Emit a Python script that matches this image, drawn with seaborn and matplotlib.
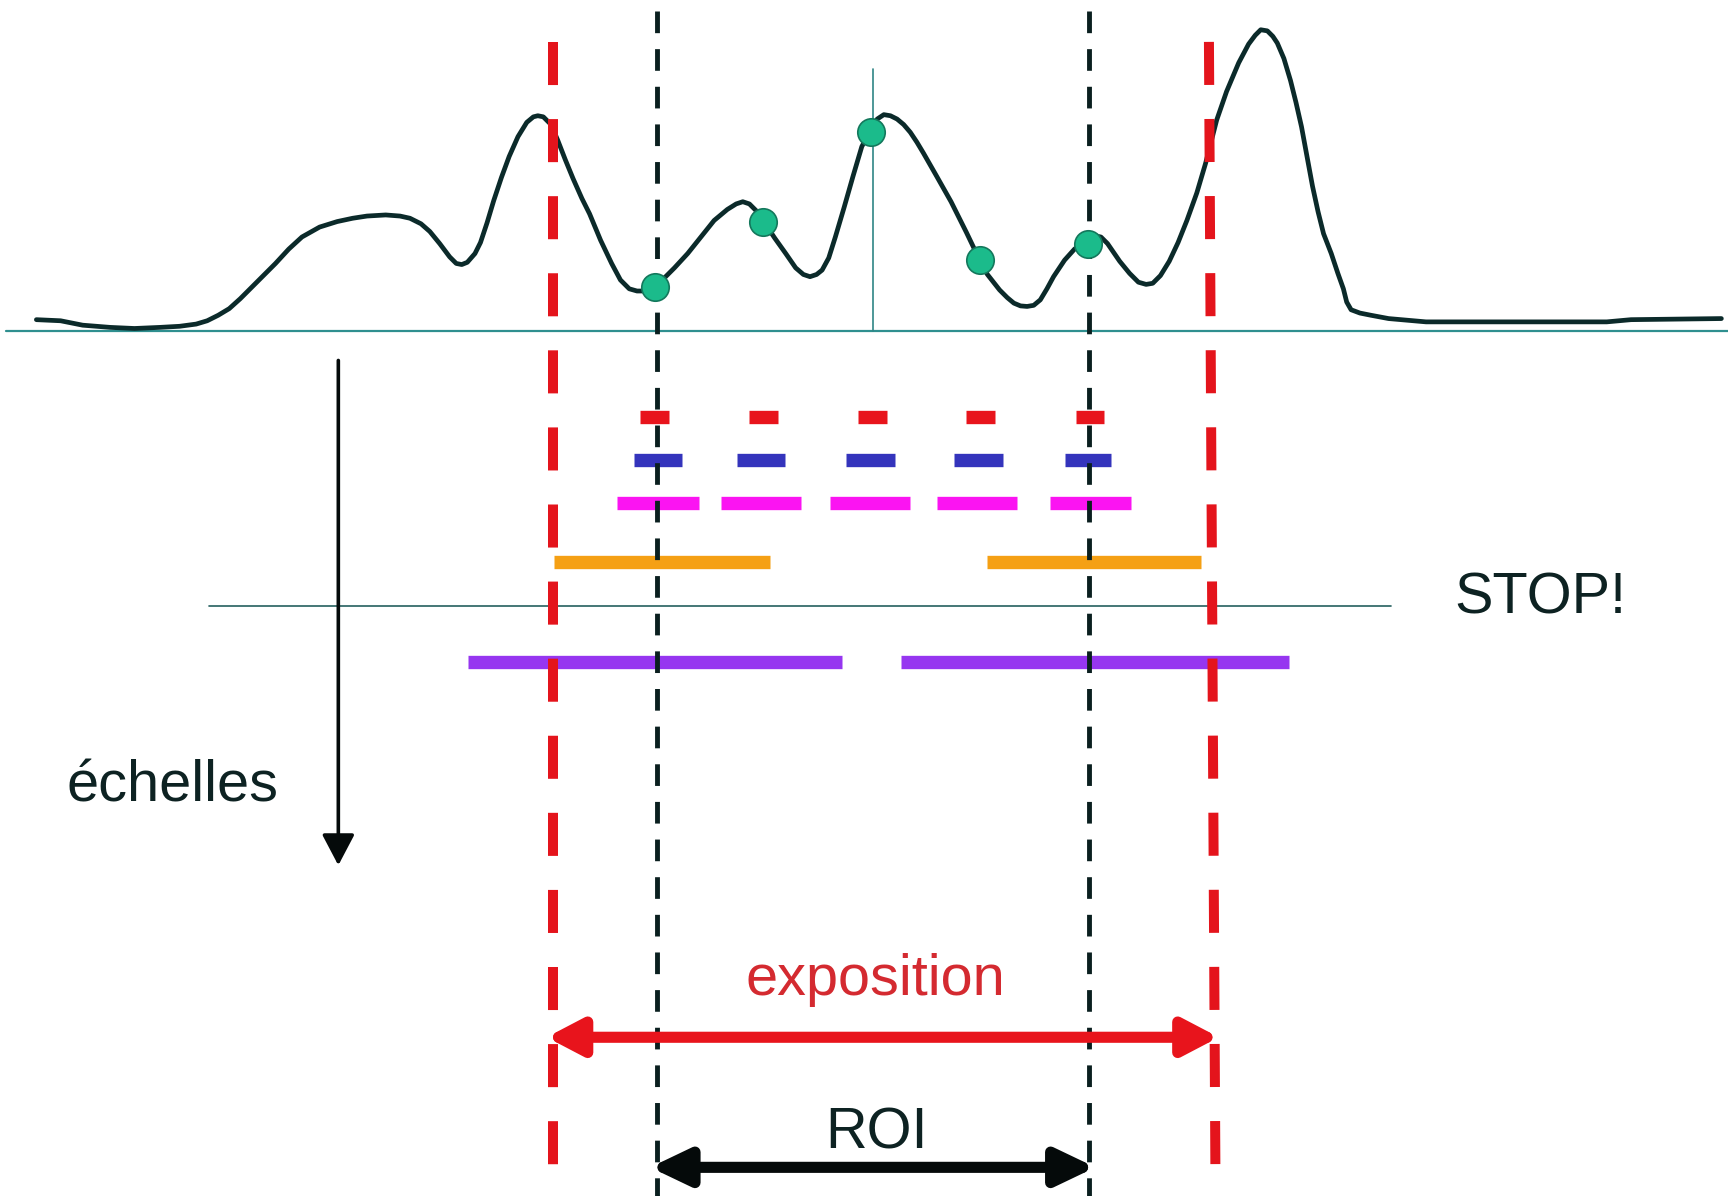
import matplotlib
matplotlib.use("Agg")
import matplotlib.pyplot as plt
import seaborn as sns
import pandas as pd
from matplotlib.patches import FancyArrowPatch

sns.set_theme(style="white")
plt.rcParams['font.family'] = ['Liberation Sans', 'DejaVu Sans']
plt.rcParams['lines.scale_dashes'] = False

# ---------------- data (canvas units) ----------------
curve_x = [33, 55, 75, 100, 122, 145, 163, 178, 188, 198, 208, 218, 229, 240, 250, 262,
           274, 290, 306, 320, 333, 350, 363, 372, 382, 390, 399, 408, 414, 419, 424, 431,
           436, 442, 448, 455, 462, 470, 478, 484, 488, 493, 500, 506, 513, 520, 528, 535,
           545, 555, 563, 571, 578, 585, 595, 603, 612, 624, 636, 648, 660, 668, 674, 680,
           687, 693, 703, 713, 722, 729, 735, 741, 746, 752, 758, 766, 774, 782, 790, 796,
           802, 808, 814, 820, 826, 832, 838, 850, 863, 877, 889, 896, 907, 914, 920, 926,
           932, 938, 944, 950, 956, 966, 975, 982, 988, 994, 999, 1005, 1016, 1025, 1033,
           1040, 1046, 1053, 1061, 1069, 1077, 1086, 1094, 1104, 1113, 1124, 1133, 1139,
           1144, 1150, 1155, 1159, 1165, 1171, 1176, 1181, 1186, 1191, 1196, 1201, 1208,
           1214, 1219, 1222, 1226, 1234, 1244, 1260, 1294, 1458, 1480, 1562]
curve_y = [290, 291, 295, 297, 298, 297, 296, 294, 291, 286, 280, 271, 260, 249, 239, 226,
           215, 206, 201, 198, 196, 195, 196, 198, 203, 210, 221, 233, 239, 240, 238, 230,
           220, 202, 182, 161, 142, 124, 111, 106, 105, 106, 113, 127, 145, 162, 180, 194,
           218, 239, 254, 262, 264, 264, 260, 252, 243, 230, 215, 200, 190, 185, 183, 185,
           192, 201, 216, 230, 243, 249, 251, 249, 245, 234, 215, 188, 160, 133, 118, 108,
           104, 105, 108, 113, 120, 129, 139, 160, 183, 211, 236, 249, 263, 270, 275, 277.5,
           278, 277, 272, 262, 251, 236, 226, 221, 217, 214, 215, 221, 237, 248, 256,
           258, 257, 250, 237, 220, 200, 175, 148, 109, 83, 57, 40, 32,
           27, 28, 33, 39, 53, 73, 93, 115, 142, 169, 192, 212, 230,
           248, 262, 274, 281, 284, 286, 289, 292, 292, 290, 289]

dot_x = [594.6, 692.7, 790.0, 889.3, 987.6]
dot_y = [260, 201, 119.5, 236, 221]

scale_names = ["red", "blue", "magenta", "orange", "purple"]
scale_colors = ["#e8141c", "#3434bc", "#fb14f2", "#f5a014", "#9636f0"]
scale_y = [378, 417, 456.5, 509.5, 601]
scale_starts = [[581, 680, 779, 877, 976],
                [575, 669, 768, 866, 966],
                [560, 654, 753, 850, 953],
                [503, 896],
                [425, 818]]
scale_ends = [[607, 706, 805, 903, 1002],
              [619, 712, 812, 910, 1008],
              [634, 727, 826, 923, 1026],
              [699, 1090],
              [764, 1170]]

exposure_x_top = [502, 1097]
exposure_x_bottom = [502, 1103]
roi_x = [596, 988]
stop_y = 549.5
baseline_y = 300
peak_x = 792

# ---------------- figure ----------------
fig = plt.figure(figsize=(17.28, 11.96), dpi=100)
ax = fig.add_axes([0, 0, 1, 1])
ax.axis("off")

# scale bars
for name, col, y, xs, xe in zip(scale_names, scale_colors, scale_y, scale_starts, scale_ends):
    ax.hlines([y] * len(xs), xs, xe, colors=col, linewidth=9.6, zorder=1)

# baseline, STOP line, peak marker line
ax.plot([5, 1568], [baseline_y, baseline_y], color="#2f8f8f", lw=1.6, zorder=1.5)
ax.plot([190, 1262], [stop_y, stop_y], color="#25605f", lw=1.2, zorder=1.5)
ax.plot([peak_x, peak_x], [63, baseline_y], color="#2f8585", lw=1.2, zorder=1.5)

# profile curve
df = pd.DataFrame({"x": curve_x, "y": curve_y})
sns.lineplot(data=df, x="x", y="y", sort=False, estimator=None, ax=ax,
             color="#0b2a2a", lw=3.4, zorder=2)
for ln in ax.get_lines()[-1:]:
    ln.set_solid_joinstyle("round")
    ln.set_solid_capstyle("round")

# exposure (red dashed) lines
for xt, xb in zip(exposure_x_top, exposure_x_bottom):
    ax.plot([xt, xb], [38, 1085], color="#e4141c", lw=7.2, dashes=(31, 24.5),
            dash_capstyle="butt", zorder=3)

# ROI (black dashed) lines
for x in roi_x:
    ax.plot([x, x], [10, 1085], color="#0a1f1f", lw=3.5, dashes=(15.6, 11.5),
            dash_capstyle="butt", zorder=3)

# green points
dots = pd.DataFrame({"x": dot_x, "y": dot_y})
sns.scatterplot(data=dots, x="x", y="y", ax=ax, s=390, color="#1bbb8b",
                edgecolor="#14785c", linewidth=1.2, zorder=4)

ax.set_xlim(0, 1568)
ax.set_ylim(1085, 0)
ax.set_xlabel("")
ax.set_ylabel("")

# arrows
arr1 = FancyArrowPatch((307, 327), (307, 785),
                       arrowstyle="-|>,head_length=19,head_width=10",
                       mutation_scale=1, lw=2.6, color="#050a0a",
                       shrinkA=0, shrinkB=0, zorder=5)
ax.add_patch(arr1)
arr2 = FancyArrowPatch((exposure_x_top[0] - 6, 941), (1106, 941),
                       arrowstyle="<|-|>,head_length=21,head_width=11",
                       mutation_scale=1, lw=8, color="#e8141c",
                       shrinkA=0, shrinkB=0, zorder=5)
ax.add_patch(arr2)
arr3 = FancyArrowPatch((roi_x[0] - 6, 1059), (roi_x[1] + 6, 1059),
                       arrowstyle="<|-|>,head_length=23,head_width=11",
                       mutation_scale=1, lw=8, color="#050a0a",
                       shrinkA=0, shrinkB=0, zorder=5)
ax.add_patch(arr3)

# texts
txt_col = "#0d2222"
ax.text(60, 727, "échelles", fontsize=41.5, color=txt_col, ha="left", va="baseline", zorder=6)
ax.text(1320, 557, "STOP!", fontsize=41.5, color=txt_col, ha="left", va="baseline", zorder=6)
ax.text(794, 903, "exposition", fontsize=41.5, color="#d42a30", ha="center", va="baseline", zorder=6)
ax.text(795, 1042, "ROI", fontsize=41.5, color=txt_col, ha="center", va="baseline", zorder=6)

fig.savefig("out.png", dpi=100, facecolor="white")
